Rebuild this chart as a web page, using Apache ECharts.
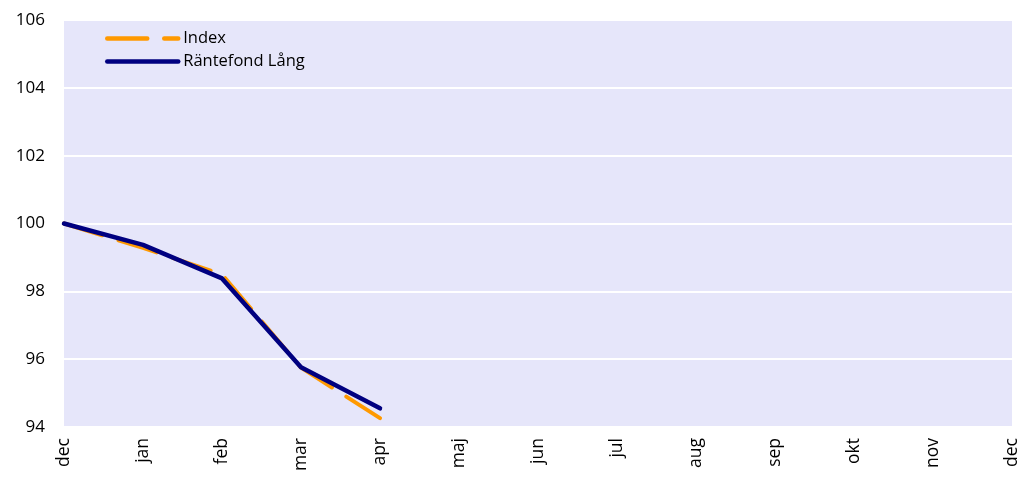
<!DOCTYPE html>
<html>
<head>
<meta charset="utf-8">
<script src="https://cdn.jsdelivr.net/npm/echarts@6/dist/echarts.min.js"></script>
<style>
  html, body { margin: 0; padding: 0; background: #fff; }
  #chart { width: 1022px; height: 479px; }
</style>
</head>
<body>
<div id="chart"></div>
<script>
// månader på x-axeln
const months = ['dec', 'jan', 'feb', 'mar', 'apr', 'maj', 'jun', 'jul', 'aug', 'sep', 'okt', 'nov', 'dec']
// serier
const indexValues = [100, 99.28, 98.5, 95.75, 94.26]
const fondValues = [100, 99.37, 98.38, 95.76, 94.55]

const font = 'Open Sans, Noto Sans, sans-serif'

const chart = echarts.init(document.getElementById('chart'))
chart.setOption({
  animation: false,
  grid: {
    left: 64,
    right: 10,
    top: 20,
    bottom: 52,
    show: true,
    backgroundColor: '#E6E6FA',
    borderWidth: 0
  },
  legend: {
    left: 100,
    top: 25,
    orient: 'vertical',
    itemWidth: 71,
    itemHeight: 14,
    itemGap: 6,
    textStyle: { fontFamily: font, fontSize: 16.5, color: '#000', padding: [0, 0, 0, 0] },
    data: [
      { name: 'Index', lineStyle: { width: 4.5 }, itemStyle: { opacity: 0 } },
      { name: 'Räntefond Lång', lineStyle: { width: 4.5 }, itemStyle: { opacity: 0 } }
    ]
  },
  xAxis: {
    type: 'category',
    boundaryGap: false,
    data: months,
    axisLine: { show: false },
    axisTick: { show: false },
    axisLabel: {
      rotate: 90,
      margin: 11,
      interval: 0,
      fontFamily: font,
      fontSize: 17.5,
      color: '#000'
    }
  },
  yAxis: {
    type: 'value',
    min: 94,
    max: 106,
    interval: 2,
    axisLine: { show: false },
    axisTick: { show: false },
    axisLabel: { fontFamily: font, fontSize: 17, color: '#000', margin: 19 },
    splitLine: { lineStyle: { color: '#fff', width: 2 } }
  },
  series: [
    {
      name: 'Index',
      type: 'line',
      data: indexValues,
      symbol: 'none',
      color: '#FF9900',
      lineStyle: { width: 4, color: '#FF9900', type: [40, 17], cap: 'round' },
      z: 2
    },
    {
      name: 'Räntefond Lång',
      type: 'line',
      data: fondValues,
      symbol: 'none',
      color: '#000080',
      lineStyle: { width: 4.5, color: '#000080', cap: 'round', join: 'round' },
      z: 3
    }
  ]
})
</script>
</body>
</html>
